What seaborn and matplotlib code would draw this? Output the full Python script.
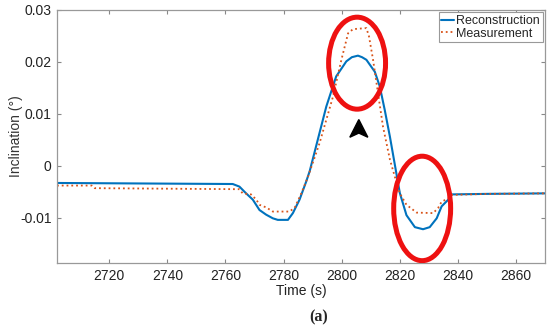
import numpy as np
import pandas as pd
import matplotlib
matplotlib.use("Agg")
import matplotlib.pyplot as plt
import seaborn as sns
from matplotlib.patches import Ellipse, Polygon

# values
recon_t = [2702, 2762.5, 2764.8, 2767.1, 2769.4, 2771.7, 2774, 2776.3, 2778, 2781.5, 2783.2, 2785.5,
           2787.8, 2789, 2791.3, 2794.7, 2798.1, 2801.6, 2803.5, 2805.6, 2807, 2808.5, 2811.4,
           2813.1, 2814.8, 2816.6, 2818.3, 2820, 2822.3, 2825.2, 2828, 2830.3, 2832.7, 2834.4,
           2836.7, 2837.8, 2850, 2870]
recon_v = [-0.0033, -0.0035, -0.0040, -0.0053, -0.0065, -0.0085, -0.0094, -0.0101, -0.0104, -0.0104,
           -0.0091, -0.0065, -0.0030, -0.0010, 0.0040, 0.0114, 0.0172, 0.0201, 0.0209, 0.0212,
           0.0209, 0.0204, 0.0181, 0.0153, 0.0108, 0.0056, 0.0002, -0.0052, -0.0095, -0.0118,
           -0.0122, -0.0118, -0.0101, -0.0078, -0.0065, -0.0055, -0.0054, -0.0053]

meas_t = [2702, 2714, 2715, 2764.8, 2765.9, 2768.8, 2770.6, 2771.7, 2774, 2776.3, 2782, 2783.8,
          2786.1, 2788.4, 2792.4, 2797, 2799.9, 2802.2, 2803.9, 2808.5, 2809.4, 2810.8, 2812.5,
          2814.2, 2816.6, 2818.3, 2820, 2822.3, 2825.8, 2831.5, 2833.2, 2834.4, 2836.6, 2837.8,
          2850, 2870]
meas_v = [-0.0038, -0.0038, -0.0043, -0.0045, -0.0053, -0.0055, -0.0065, -0.0075, -0.0080, -0.0088,
          -0.0088, -0.0081, -0.0053, -0.0021, 0.0044, 0.0133, 0.0204, 0.0255, 0.0263, 0.0265,
          0.0249, 0.0204, 0.0140, 0.0076, 0.0012, -0.0021, -0.0053, -0.0075, -0.0090, -0.0091,
          -0.0081, -0.0069, -0.0063, -0.0056, -0.0054, -0.0053]

x_ticks = [2720, 2740, 2760, 2780, 2800, 2820, 2840, 2860]
y_ticks = [-0.01, 0, 0.01, 0.02, 0.03]
y_ticklabels = ['-0.01', '0', '0.01', '0.02', '0.03']

# highlight ellipses: (center x, center y, width, height)
ellipses = [(2805.3, 0.01975, 19.6, 0.0177), (2827.7, -0.0082, 19.6, 0.0201)]
arrow_x = 2805.9
arrow_tip = 0.0089
arrow_base = 0.0055

sns.set_theme(style="white")
plt.rcParams['font.family'] = ['Liberation Sans', 'DejaVu Sans']

df_r = pd.DataFrame({'t': recon_t, 'v': recon_v})
df_m = pd.DataFrame({'t': meas_t, 'v': meas_v})

fig = plt.figure(figsize=(5.5, 3.3), dpi=100)
ax = fig.add_axes([0.1036, 0.203, 0.8874, 0.767])

sns.lineplot(data=df_r, x='t', y='v', ax=ax, color='#0072BD', linewidth=1.5, label='Reconstruction')
sns.lineplot(data=df_m, x='t', y='v', ax=ax, color='#D95319', linewidth=1.3, linestyle=':',
             label='Measurement')

for cx, cy, w, h in ellipses:
    ax.add_patch(Ellipse((cx, cy), w, h, fill=False, edgecolor='#EE1111', linewidth=3.6, zorder=5))

# black arrowhead under the first ellipse
hw = 3.1
notch = 0.0008
ax.add_patch(Polygon([(arrow_x, arrow_tip), (arrow_x + hw, arrow_base), (arrow_x, arrow_base + notch),
                      (arrow_x - hw, arrow_base)], closed=True, color='black', zorder=6))

ax.set_xlim(2702, 2870)
ax.set_ylim(-0.0187, 0.03)
ax.set_xticks(x_ticks)
ax.set_xticklabels([str(t) for t in x_ticks])
ax.set_yticks(y_ticks)
ax.set_yticklabels(y_ticklabels)
ax.tick_params(direction='in', length=3, width=0.8, color='#888888', labelsize=10,
               labelcolor='#222222', top=True, right=True, bottom=True, left=True, pad=4)
for s in ax.spines.values():
    s.set_color('#999999')
    s.set_linewidth(0.9)

ax.set_xlabel('Time (s)', fontsize=10, color='#222222', labelpad=1)
ax.set_ylabel('Inclination (°)', fontsize=10, color='#333333', labelpad=-2)

leg = ax.legend(loc='upper right', fontsize=9, frameon=True, fancybox=False, framealpha=1,
                edgecolor='#999999', borderaxespad=0.2, handlelength=1.0, handletextpad=0.2,
                borderpad=0.2, labelspacing=0.05)
leg.get_frame().set_linewidth(0.8)

fig.text(0.579, 0.039, '(a)', ha='center', va='center', fontsize=11.5, fontweight='bold',
         family=['Liberation Serif', 'DejaVu Serif'])

fig.savefig('out.png', dpi=100)
